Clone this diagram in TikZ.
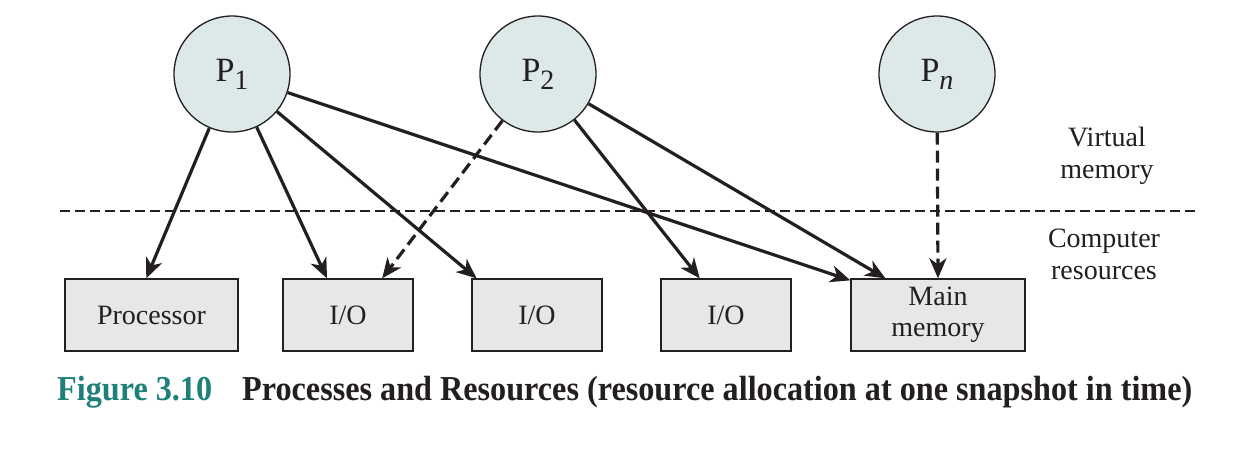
\documentclass[tikz,border=0pt]{standalone}
\usepackage{fontspec}
\setmainfont{Liberation Serif}
\usetikzlibrary{arrows.meta,calc}
\definecolor{circfill}{RGB}{221,233,233}
\definecolor{boxfill}{RGB}{230,231,233}
\definecolor{ink}{RGB}{35,31,32}
\definecolor{capteal}{RGB}{31,128,122}
\newcommand{\psub}[1]{P\raisebox{-8pt}{\fontsize{28}{28}\selectfont #1}}
\begin{document}
\begin{tikzpicture}[x=1pt,y=-1pt,
  procnode/.style={circle,draw=ink,line width=1.3pt,fill=circfill,minimum size=116pt,inner sep=0pt,text=ink,font=\fontsize{34}{38}\selectfont},
  resnode/.style={rectangle,draw=ink,line width=1.3pt,fill=boxfill,minimum height=72pt,inner sep=0pt,align=center,text=ink,font=\fontsize{28}{31}\selectfont},
  conn/.style={line width=3.2pt,draw=ink,-{Stealth[length=20pt,width=17pt,inset=6pt]}},
  vconn/.style={conn,dash pattern=on 12pt off 6pt},
  lbl/.style={align=center,text=ink,font=\fontsize{28}{32}\selectfont},
  capnode/.style={anchor=base west,inner sep=0pt,xscale=0.92,font=\fontsize{35}{38}\selectfont\bfseries}]
\useasboundingbox (0,0) rectangle (1252,448);
\fill[white] (0,0) rectangle (1252,448);

% separator
\coordinate (sepL) at (60,211);
\coordinate (sepR) at (1195,211);
\draw[ink,line width=1.4pt,dash pattern=on 10pt off 5pt] (sepL) -- (sepR);

% processes
\node[procnode] (p1) at (232,74) {\psub{1}};
\node[procnode] (p2) at (538,74) {\psub{2}};
\node[procnode] (pn) at (937,74) {\psub{\itshape n}};

% resources
\node[resnode,minimum width=173pt] (proc) at (151.5,315) {Processor};
\node[resnode,minimum width=130pt] (io1) at (348,315) {I/O};
\node[resnode,minimum width=130pt] (io2) at (537,315) {I/O};
\node[resnode,minimum width=130pt] (io3) at (726,315) {I/O};
\node[resnode,minimum width=174pt] (mm) at (938,315) {Main\\memory};

% labels
\node[lbl] (vm) at (1107,156) {Virtual\\memory};
\node[lbl] (cr) at (1104,254) {Computer\\resources};

% connectors
\draw[conn] (p1) -- ($(proc.north west)!0.47!(proc.north east)$);
\draw[conn] (p1) -- ($(io1.north west)!0.34!(io1.north east)$);
\draw[conn] (p1) -- ($(io2.north west)!0.04!(io2.north east)$);
\draw[conn] (p1) -- ($(mm.north west)+(0,2)$);
\draw[vconn] (p2) -- ($(io1.north west)!0.76!(io1.north east)$);
\draw[conn] (p2) -- ($(io3.north west)!0.3!(io3.north east)$);
\draw[conn] (p2) -- ($(mm.north west)!0.2!(mm.north east)$);
\draw[vconn] (pn) -- (mm.north);

% caption
\node[capnode,text=capteal] (capnum) at (57,400) {Figure 3.10};
\node[capnode,text=ink] (captxt) at (242,400) {Processes and Resources (resource allocation at one snapshot in time)};
\end{tikzpicture}
\end{document}
